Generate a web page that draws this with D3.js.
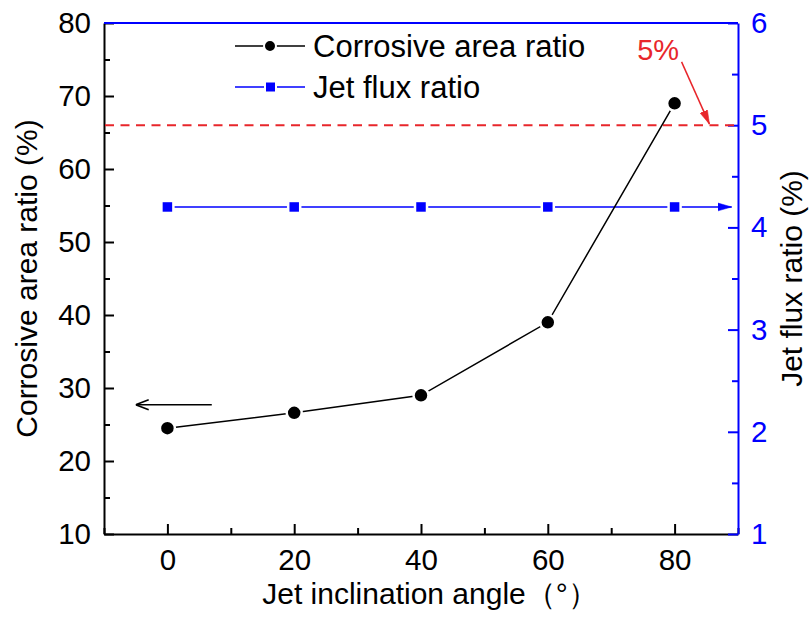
<!DOCTYPE html>
<html>
<head>
<meta charset="utf-8">
<script src="https://cdn.jsdelivr.net/npm/d3@7"></script>
<style>
  body { margin: 0; background: #fff; }
  text { font-family: "Liberation Sans", Arial, sans-serif; }
</style>
</head>
<body>
<svg id="chart" width="812" height="617"></svg>
<script>
// data
const angles = [0, 20, 40, 60, 80];
const corrosiveRatio = [24.5, 26.6, 29.0, 39.0, 69.0];
const jetFluxRatio = [4.2, 4.2, 4.2, 4.2, 4.2];
const xTicks = [0, 20, 40, 60, 80];
const yLeftTicks = [10, 20, 30, 40, 50, 60, 70, 80];
const yRightTicks = [1, 2, 3, 4, 5, 6];
const limitValue = 5;   // red dashed 5% line (right axis)
const legendNames = ["Corrosive area ratio", "Jet flux ratio"];

const W = 812, H = 617;
const margin = {top: 23, right: 74, bottom: 83, left: 104};
const BLUE = "#0000ff", RED = "#e8262b";

const svg = d3.select("#chart");

const x = d3.scaleLinear().domain([-10, 90]).range([margin.left, W - margin.right]);
const yL = d3.scaleLinear().domain([10, 80]).range([H - margin.bottom, margin.top]);
const yR = d3.scaleLinear().domain([1, 6]).range([H - margin.bottom, margin.top]);

// minor ticks
svg.append("g").attr("transform", `translate(0,${H - margin.bottom})`)
  .call(d3.axisBottom(x).tickValues([-10, 10, 30, 50, 70, 90]).tickSize(-6).tickFormat(""))
  .call(g => g.select(".domain").remove())
  .selectAll("line").attr("stroke", "#000").attr("stroke-width", 2);
svg.append("g").attr("transform", `translate(${margin.left},0)`)
  .call(d3.axisLeft(yL).tickValues(d3.range(15, 80, 10)).tickSize(-6).tickFormat(""))
  .call(g => g.select(".domain").remove())
  .selectAll("line").attr("stroke", "#000").attr("stroke-width", 2);
svg.append("g").attr("transform", `translate(${W - margin.right},0)`)
  .call(d3.axisRight(yR).tickValues(d3.range(1.5, 6, 1)).tickSize(-6).tickFormat(""))
  .call(g => g.select(".domain").remove())
  .selectAll("line").attr("stroke", BLUE).attr("stroke-width", 2);

// major axes
const xAxis = svg.append("g").attr("transform", `translate(0,${H - margin.bottom})`)
  .call(d3.axisBottom(x).tickValues(xTicks).tickSize(-10).tickSizeOuter(0).tickPadding(15));
const yAxisL = svg.append("g").attr("transform", `translate(${margin.left},0)`)
  .call(d3.axisLeft(yL).tickValues(yLeftTicks).tickSize(-10).tickSizeOuter(0).tickPadding(13));
const yAxisR = svg.append("g").attr("transform", `translate(${W - margin.right},0)`)
  .call(d3.axisRight(yR).tickValues(yRightTicks).tickFormat(d3.format("d"))
    .tickSize(-10).tickSizeOuter(0).tickPadding(13));

[xAxis, yAxisL].forEach(a => {
  a.selectAll("path, line").attr("stroke", "#000").attr("stroke-width", 2);
  a.selectAll("text").attr("fill", "#000").style("font-size", "29.5px");
});
yAxisR.selectAll("path, line").attr("stroke", BLUE).attr("stroke-width", 2);
yAxisR.selectAll("text").attr("fill", BLUE).style("font-size", "29.5px");

// top frame
svg.append("line")
  .attr("x1", margin.left).attr("x2", W - margin.right)
  .attr("y1", margin.top).attr("y2", margin.top)
  .attr("stroke", BLUE).attr("stroke-width", 2);

// red dashed limit line
svg.append("line")
  .attr("x1", margin.left + 1).attr("x2", W - margin.right)
  .attr("y1", yR(limitValue)).attr("y2", yR(limitValue))
  .attr("stroke", RED).attr("stroke-width", 2).attr("stroke-dasharray", "9,6.5");

// arrow heads
const defs = svg.append("defs");
function marker(id, color, filled) {
  defs.append("marker").attr("id", id)
    .attr("viewBox", "0 -6 14 12").attr("refX", 14).attr("refY", 0)
    .attr("markerWidth", 14).attr("markerHeight", 12).attr("markerUnits", "userSpaceOnUse")
    .attr("orient", "auto")
    .append("path")
    .attr("d", filled ? "M0,-4L14,0L0,4Z" : "M1,-5L14,0L1,5")
    .attr("fill", filled ? color : "none").attr("stroke", color).attr("stroke-width", filled ? 0.5 : 1.6);
}
marker("arrBlack", "#000", false);
marker("arrBlue", BLUE, true);
marker("arrRed", RED, true);

// jet flux series (right axis)
const fluxPts = angles.map((a, i) => [a, jetFluxRatio[i]]);
svg.append("path")
  .attr("d", d3.line().x(d => x(d[0])).y(d => yR(d[1]))(fluxPts))
  .attr("fill", "none").attr("stroke", BLUE).attr("stroke-width", 1.5);
svg.append("line")
  .attr("x1", x(80)).attr("x2", x(89))
  .attr("y1", yR(4.2)).attr("y2", yR(4.2))
  .attr("stroke", BLUE).attr("stroke-width", 1.5).attr("marker-end", "url(#arrBlue)");
svg.selectAll(".sq").data(fluxPts).join("rect")
  .attr("x", d => x(d[0]) - 6).attr("y", d => yR(d[1]) - 6)
  .attr("width", 12).attr("height", 12)
  .attr("fill", BLUE).attr("stroke", "#fff").attr("stroke-width", 2.5);

// corrosive area series (left axis)
const corrPts = angles.map((a, i) => [a, corrosiveRatio[i]]);
svg.append("path")
  .attr("d", d3.line().x(d => x(d[0])).y(d => yL(d[1]))(corrPts))
  .attr("fill", "none").attr("stroke", "#000").attr("stroke-width", 1.5);
svg.selectAll(".dot").data(corrPts).join("circle")
  .attr("cx", d => x(d[0])).attr("cy", d => yL(d[1])).attr("r", 7.5)
  .attr("fill", "#000").attr("stroke", "#fff").attr("stroke-width", 2.5);

// black arrow pointing to left axis
svg.append("line")
  .attr("x1", x(7)).attr("x2", x(-5))
  .attr("y1", yL(27.7)).attr("y2", yL(27.7))
  .attr("stroke", "#000").attr("stroke-width", 1.5).attr("marker-end", "url(#arrBlack)");

// 5% annotation
svg.append("text")
  .attr("x", x(77.4)).attr("y", yR(5.64))
  .attr("text-anchor", "middle").attr("fill", RED)
  .style("font-size", "29px").text("5%");
svg.append("line")
  .attr("x1", x(81.1)).attr("y1", yR(5.62))
  .attr("x2", x(85.5)).attr("y2", yR(5.01))
  .attr("stroke", RED).attr("stroke-width", 1.5).attr("marker-end", "url(#arrRed)");

// legend
const leg = svg.append("g");
const legRows = [
  {name: legendNames[0], color: "#000", y: 46, shape: "circle"},
  {name: legendNames[1], color: BLUE, y: 87, shape: "square"}
];
legRows.forEach(r => {
  leg.append("line").attr("x1", 235).attr("x2", 305).attr("y1", r.y).attr("y2", r.y)
    .attr("stroke", r.color).attr("stroke-width", 1.5);
  if (r.shape === "circle") {
    leg.append("circle").attr("cx", 270).attr("cy", r.y).attr("r", 6)
      .attr("fill", r.color).attr("stroke", "#fff").attr("stroke-width", 2);
  } else {
    leg.append("rect").attr("x", 265).attr("y", r.y - 5.5).attr("width", 11).attr("height", 11)
      .attr("fill", r.color).attr("stroke", "#fff").attr("stroke-width", 2);
  }
  leg.append("text").attr("x", 313).attr("y", r.y).attr("dy", "0.35em")
    .attr("fill", "#000").style("font-size", "31px").text(r.name);
});

// axis titles
const midY = (margin.top + H - margin.bottom) / 2;
svg.append("text")
  .attr("transform", `translate(37,${midY}) rotate(-90)`)
  .attr("text-anchor", "middle").attr("fill", "#000")
  .style("font-size", "30px").text("Corrosive area ratio (%)");
svg.append("text")
  .attr("transform", `translate(802,${midY}) rotate(-90)`)
  .attr("text-anchor", "middle").attr("fill", "#000")
  .style("font-size", "30px").text("Jet flux ratio (%)");
svg.append("text")
  .attr("x", 430).attr("y", 604)
  .attr("text-anchor", "middle").attr("fill", "#000")
  .style("font-size", "30px").text("Jet inclination angle（°）");
</script>
</body>
</html>
